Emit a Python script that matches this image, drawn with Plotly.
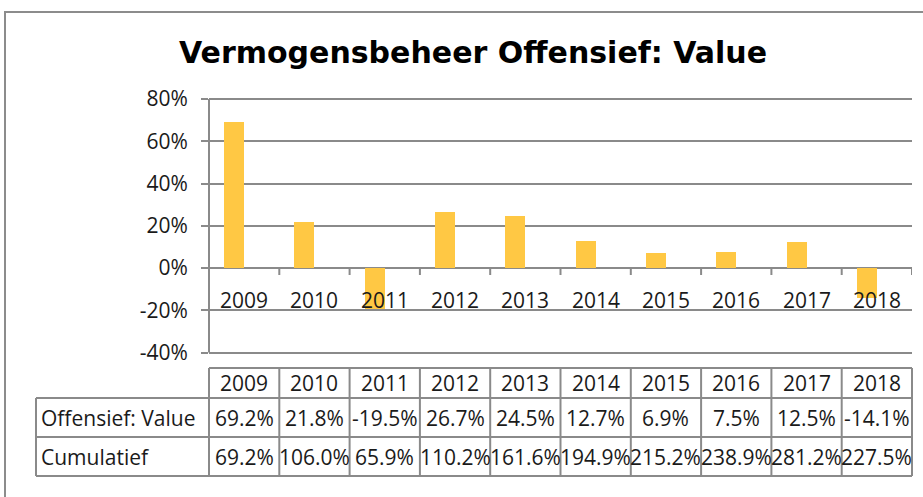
import plotly.graph_objects as go

years = ["2009", "2010", "2011", "2012", "2013", "2014", "2015", "2016", "2017", "2018"]
value_returns = [69.2, 21.8, -19.5, 26.7, 24.5, 12.7, 6.9, 7.5, 12.5, -14.1]
cumulative = [69.2, 106.0, 65.9, 110.2, 161.6, 194.9, 215.2, 238.9, 281.2, 227.5]
y_ticks = [-40, -20, 0, 20, 40, 60, 80]
y_tick_labels = ["-40%", "-20%", "0%", "20%", "40%", "60%", "80%"]
row_labels = ["Offensief: Value", "Cumulatief"]
title_text = "Vermogensbeheer Offensief: Value"

W, H = 923, 497
def px(x):
    return x / W
def py(y):
    return 1 - y / H

GRID = "#8a8a8a"
BAR = "#FFC844"
FONT = "Open Sans"
FS = 21
TXT = "#1a1a1a"

plot_left, plot_right = 209, 912
plot_top, plot_bottom = 99, 352.5
ymin, ymax = -40, 80
ppu = (plot_bottom - plot_top) / (ymax - ymin)
pad_px = 1.5
n = len(years)
col_w = (plot_right - plot_left) / n

fig = go.Figure()
fig.add_trace(go.Bar(
    x=list(range(n)), y=value_returns, marker_color=BAR, marker_line_width=0,
    width=0.285, offset=-0.285, showlegend=False, hoverinfo="skip",
))

shapes = []
annotations = []

# outer chart border
shapes.append(dict(type="rect", xref="paper", yref="paper",
                   x0=px(5), x1=px(940), y0=py(12), y1=py(515),
                   line=dict(color="#8c8c8c", width=2), fillcolor="rgba(0,0,0,0)"))

# category tick marks on the zero line
for k in range(n + 1):
    shapes.append(dict(type="line", xref="x", yref="y",
                       x0=k - 0.5, x1=k - 0.5,
                       ysizemode="pixel", yanchor=0, y0=0, y1=-7,
                       line=dict(color=GRID, width=2)))

# year labels under zero line
for i, yr in enumerate(years):
    annotations.append(dict(x=i, y=0, xref="x", yref="y", text=yr, showarrow=False,
                            yanchor="middle", yshift=-32,
                            font=dict(family=FONT, size=FS, color=TXT)))

# data table
t_top, r1, r2, r3 = 368, 398, 437, 476
tbl_left = 36
line = dict(color=GRID, width=2)
shapes.append(dict(type="line", xref="paper", yref="paper", x0=px(plot_left), x1=px(plot_right),
                   y0=py(t_top), y1=py(t_top), line=line))
for yy in (r1, r2, r3):
    shapes.append(dict(type="line", xref="paper", yref="paper", x0=px(tbl_left), x1=px(plot_right),
                       y0=py(yy), y1=py(yy), line=line))
shapes.append(dict(type="line", xref="paper", yref="paper", x0=px(tbl_left), x1=px(tbl_left),
                   y0=py(r1), y1=py(r3), line=line))
for k in range(n + 1):
    xx = plot_left + k * col_w
    shapes.append(dict(type="line", xref="paper", yref="paper", x0=px(xx), x1=px(xx),
                       y0=py(t_top), y1=py(r3), line=line))

for i, (yr, v, c) in enumerate(zip(years, value_returns, cumulative)):
    for txt, (a, b) in ((yr, (t_top, r1)), (f"{v:.1f}%", (r1, r2)), (f"{c:.1f}%", (r2, r3))):
        annotations.append(dict(x=i, y=py((a + b) / 2), xref="x", yref="paper", text=txt,
                                showarrow=False, yanchor="middle",
                                font=dict(family=FONT, size=FS, color=TXT)))
for lbl, (a, b) in zip(row_labels, [(r1, r2), (r2, r3)]):
    annotations.append(dict(x=px(tbl_left + 3), y=py((a + b) / 2), xref="paper", yref="paper",
                            text=lbl, showarrow=False, xanchor="left", yanchor="middle",
                            font=dict(family=FONT, size=FS, color=TXT)))

# title
annotations.append(dict(x=px(473), y=py(52), xref="paper", yref="paper", text=f"<b>{title_text}</b>",
                        showarrow=False, xanchor="center", yanchor="middle",
                        font=dict(family="DejaVu Sans", size=30, color="#000000")))

fig.update_layout(
    width=W, height=H,
    margin=dict(l=0, r=0, t=0, b=0, autoexpand=False),
    paper_bgcolor="white", plot_bgcolor="white",
    xaxis=dict(domain=[px(plot_left), px(plot_right)], range=[-0.5, n - 0.5],
               showticklabels=False, showgrid=False, zeroline=False,
               showline=False, ticks=""),
    yaxis=dict(domain=[py(plot_bottom + pad_px), py(plot_top - pad_px)],
               range=[ymin - pad_px / ppu, ymax + pad_px / ppu],
               tickvals=y_ticks, ticktext=y_tick_labels,
               showgrid=True, gridcolor=GRID, gridwidth=2,
               zeroline=True, zerolinecolor=GRID, zerolinewidth=2,
               showline=False,
               ticks="outside", ticklen=7, tickcolor=GRID, tickwidth=2,
               ticklabelstandoff=9,
               tickfont=dict(family=FONT, size=FS, color=TXT)),
    shapes=shapes + [dict(type="line", xref="paper", yref="y", x0=px(plot_left), x1=px(plot_left),
                          y0=ymin, y1=ymax, line=dict(color=GRID, width=2))],
    annotations=annotations,
    bargap=0,
)

fig.write_html("out.html", config={"displayModeBar": False, "staticPlot": True},
               post_script="document.body.style.margin='0px';document.body.style.overflow='hidden';")
